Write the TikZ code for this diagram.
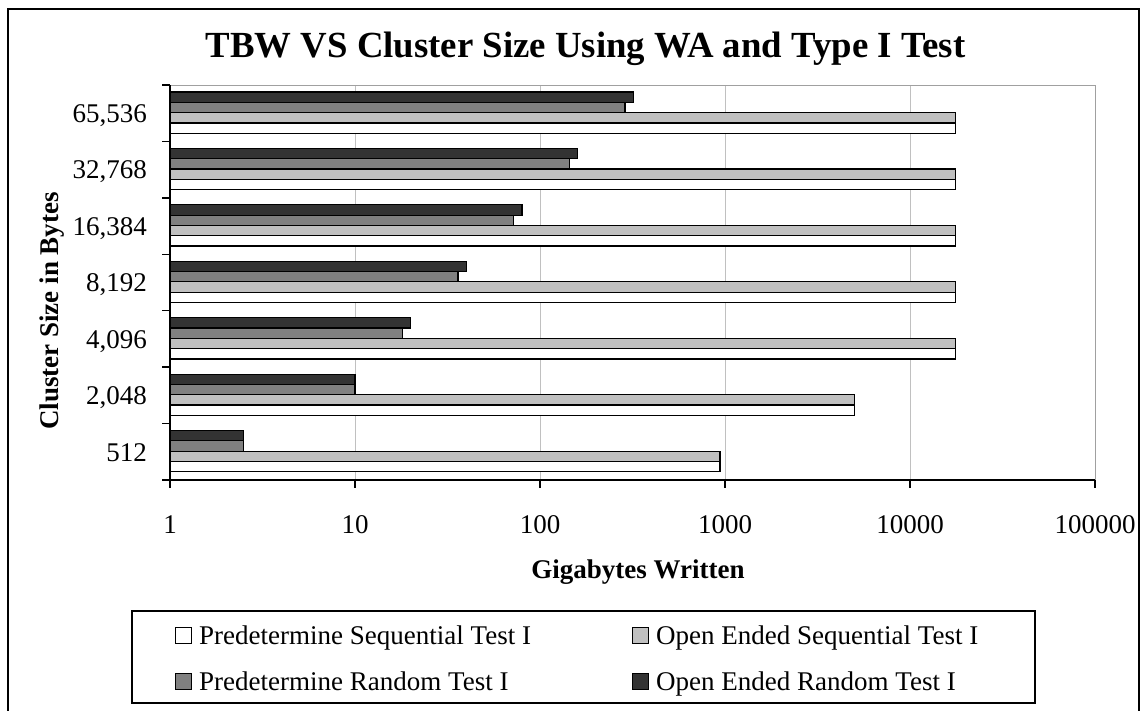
\documentclass[tikz,border=0pt]{standalone}
\usepackage{fontspec}
\setmainfont{Liberation Serif}

\definecolor{barDark}{HTML}{333333}
\definecolor{barMid}{HTML}{808080}
\definecolor{barLight}{HTML}{C0C0C0}
\definecolor{gridGray}{HTML}{C0C0C0}
\definecolor{frameGray}{HTML}{A0A0A0}

\begin{document}
\begin{tikzpicture}[x=1pt,y=-1pt,
  bar/.style={draw=black,line width=1.2pt},
  ticklbl/.style={font=\fontsize{27}{30}\selectfont,inner sep=0pt},
  axtitle/.style={font=\bfseries\fontsize{27}{30}\selectfont,inner sep=0pt},
  legtext/.style={font=\fontsize{27}{30}\selectfont,inner sep=0pt,anchor=base west},
  legkey/.style={draw=black,line width=1pt,minimum size=16pt,inner sep=0pt},
  gridline/.style={draw=gridGray,line width=1pt},
  axisline/.style={draw=black,line width=1.4pt},
]
\useasboundingbox (0,0) rectangle (1141,710);
\fill[white] (0,0) rectangle (1141,710);

% chart area frame (open at the bottom edge of the page)
\draw[line width=1.3pt] (8,720) -- (8,9) -- (1139,9) -- (1139,720);

% title
\node[font=\bfseries\fontsize{36.8}{40}\selectfont,inner sep=0pt,anchor=base]
  (title) at (585.5,57.3) {TBW VS Cluster Size Using WA and Type I Test};

% plot area: vertical grid lines and grey border
\foreach \k in {1,...,4}
  \draw[gridline] (170+185*\k,85) -- (170+185*\k,480);
\draw[draw=frameGray,line width=1pt] (170,85) -- (1095,85) -- (1095,480);

% bars, given as log10 of gigabytes written (one decade = 185pt):
% Predetermine Seq. / Open Ended Seq. / Predetermine Random / Open Ended Random
\foreach \ws/\ls/\ms/\ds [count=\k from 0] in
  {2.9731/2.9731/0.3979/0.3979,   % 512      : 940, 940, 2.5, 2.5
   3.6990/3.6990/1.0000/1.0000,   % 2,048    : 5000, 5000, 10, 10
   4.2455/4.2455/1.2553/1.3010,   % 4,096    : 17600, 17600, 18, 20
   4.2455/4.2455/1.5563/1.6021,   % 8,192    : 17600, 17600, 36, 40
   4.2455/4.2455/1.8573/1.9031,   % 16,384   : 17600, 17600, 72, 80
   4.2455/4.2455/2.1584/2.2041,   % 32,768   : 17600, 17600, 144, 160
   4.2455/4.2455/2.4594/2.5051}{  % 65,536   : 17600, 17600, 288, 320
  \pgfmathsetmacro{\T}{85+(6-\k)*56.43}
  \draw[bar,fill=barDark]  (170,\T+7)    rectangle ({170+185*\ds},\T+17.3);
  \draw[bar,fill=barMid]   (170,\T+17.3) rectangle ({170+185*\ms},\T+27.6);
  \draw[bar,fill=barLight] (170,\T+27.6) rectangle ({170+185*\ls},\T+37.9);
  \draw[bar,fill=white]    (170,\T+37.9) rectangle ({170+185*\ws},\T+48.2);
}

% axes with tick marks
\draw[axisline] (170,85) -- (170,488);
\draw[axisline] (162,480) -- (1095,480);
\foreach \k in {0,...,6}
  \draw[axisline] (162,85+\k*56.43) -- (170,85+\k*56.43);
\foreach \k in {1,...,5}
  \draw[axisline] (170+185*\k,480) -- (170+185*\k,488);

% tick labels
\foreach \t [count=\k from 0] in {1,10,100,1000,10000,100000}
  \node[ticklbl,anchor=base] (xt\k) at (170+185*\k,533) {\t};
\foreach \t [count=\k from 0] in {512,{2,048},{4,096},{8,192},{16,384},{32,768},{65,536}}
  \node[ticklbl,anchor=base east] (yt\k) at (147,85+6*56.43-\k*56.43+28.2+9.3) {\t};

% axis titles
\node[axtitle,anchor=base] (xtitle) at (638,578) {Gigabytes Written};
\node[axtitle,anchor=base,rotate=90] (ytitle) at (58,311) {Cluster Size in Bytes};

% legend
\draw[line width=1.2pt] (132,611) rectangle (1035,703);
\node[legkey,fill=white]    (k1) at (183,635.5) {};
\node[legkey,fill=barLight] (k2) at (640,635.5) {};
\node[legkey,fill=barMid]   (k3) at (183,681.5) {};
\node[legkey,fill=barDark]  (k4) at (640,681.5) {};
\node[legtext] (l1) at (199,644) {Predetermine Sequential Test I};
\node[legtext] (l2) at (656,644) {Open Ended Sequential Test I};
\node[legtext] (l3) at (199,690) {Predetermine Random Test I};
\node[legtext] (l4) at (656,690) {Open Ended Random Test I};
\end{tikzpicture}
\end{document}
